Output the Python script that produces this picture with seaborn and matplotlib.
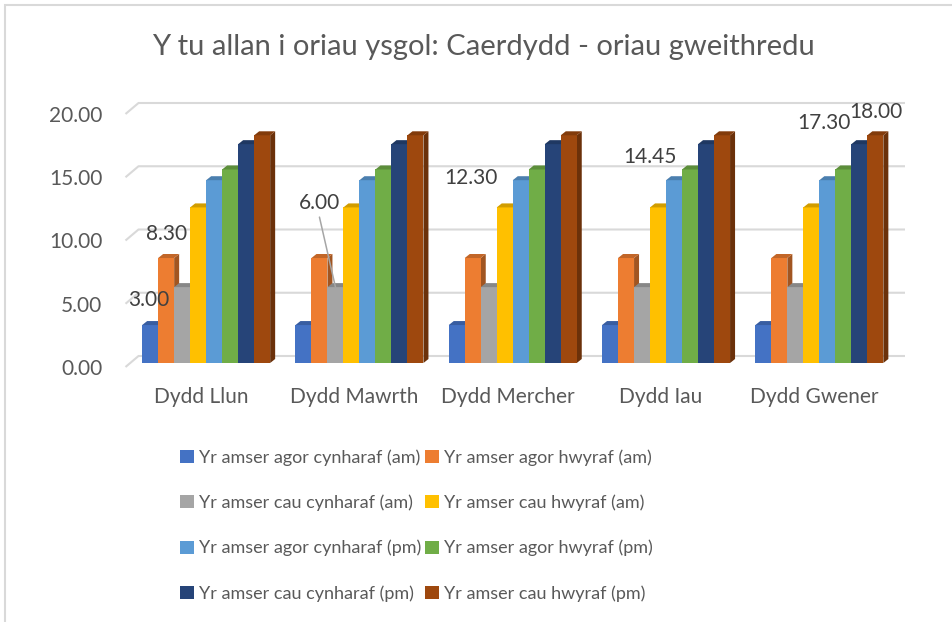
import matplotlib
matplotlib.use("Agg")
import matplotlib.pyplot as plt
import matplotlib.colors as mcolors
from matplotlib.patches import Polygon, Patch, Rectangle
from matplotlib.transforms import ScaledTranslation
import numpy as np
import pandas as pd
import seaborn as sns

# ---- data -------------------------------------------------------------
days = ["Dydd Llun", "Dydd Mawrth", "Dydd Mercher", "Dydd Iau", "Dydd Gwener"]
series = [
    "Yr amser agor cynharaf (am)",
    "Yr amser agor hwyraf (am)",
    "Yr amser cau cynharaf (am)",
    "Yr amser cau hwyraf (am)",
    "Yr amser agor cynharaf (pm)",
    "Yr amser agor hwyraf (pm)",
    "Yr amser cau cynharaf (pm)",
    "Yr amser cau hwyraf (pm)",
]
open_early_am = [3.00, 3.00, 3.00, 3.00, 3.00]
open_late_am = [8.30, 8.30, 8.30, 8.30, 8.30]
close_early_am = [6.00, 6.00, 6.00, 6.00, 6.00]
close_late_am = [12.30, 12.30, 12.30, 12.30, 12.30]
open_early_pm = [14.45, 14.45, 14.45, 14.45, 14.45]
open_late_pm = [15.30, 15.30, 15.30, 15.30, 15.30]
close_early_pm = [17.30, 17.30, 17.30, 17.30, 17.30]
close_late_pm = [18.00, 18.00, 18.00, 18.00, 18.00]
y_ticks = [0, 5, 10, 15, 20]

colors = ["#4472C4", "#ED7D31", "#A5A5A5", "#FFC000",
          "#5B9BD5", "#70AD47", "#264478", "#9E480E"]

values = [open_early_am, open_late_am, close_early_am, close_late_am,
          open_early_pm, open_late_pm, close_early_pm, close_late_pm]
df = pd.DataFrame(
    [(d, s, v[i]) for s, v in zip(series, values) for i, d in enumerate(days)],
    columns=["day", "series", "hours"],
)

# (series index, day index, label offset in px, leader line)
value_labels = [
    (0, 0, (-1, 25), False),
    (1, 0, (0, 24), False),
    (2, 1, (-16, 84), True),
    (3, 2, (-34, 29), False),
    (4, 3, (-24, 23), False),
    (6, 4, (-35, 21), False),
    (7, 4, (1, 23), False),
]

# ---- styling ----------------------------------------------------------
sns.set_theme(style="white")
FONT = ["Lato", "DejaVu Sans"]
plt.rcParams["font.family"] = FONT
TXT = "#595959"
GRID = "#D9D9D9"
TICK_FS = 15

W, H = 952, 622
fig = plt.figure(figsize=(W / 100, H / 100), dpi=100)
fig.patch.set_facecolor("white")

# plot area (front plane of the bars) in pixels
x_left, x_right = 129.5, 896.0
y_bottom, y_top = 363.0, 110.0
ax = fig.add_axes([x_left / W, 1 - y_bottom / H,
                   (x_right - x_left) / W, (y_bottom - y_top) / H])
ax.set_facecolor("none")

sns.barplot(data=df, x="day", y="hours", hue="series", hue_order=series,
            order=days, palette=colors, width=0.835, saturation=1,
            linewidth=0, legend=False, ax=ax)
ax.set_xlim(-0.5, 4.5)
ax.set_ylim(0, 20)
for s in ax.spines.values():
    s.set_visible(False)
ax.set_xlabel("")
ax.set_ylabel("")

# pixel -> data conversion
px_x = (x_right - x_left) / 5.0   # pixels per category unit
px_y = (y_bottom - y_top) / 20.0  # pixels per hour


def dx(p):
    return p / px_x


def dy(p):
    return p / px_y


# ---- back walls: gridlines with a perspective lead-in -----------------
back = (9, 7)
front = (-4, -4)
for t in y_ticks:
    xs = [-0.5 + dx(front[0]), -0.5 + dx(back[0]), 4.5 + dx(back[0])]
    ys = [t + dy(front[1]), t + dy(back[1]), t + dy(back[1])]
    ax.plot(xs, ys, color=GRID, lw=1.5, zorder=0.5, clip_on=False,
            solid_capstyle="butt")

# ---- pseudo-3D column faces -------------------------------------------
depth = (5, 4)
ddx, ddy = dx(depth[0]), dy(depth[1])
n_days = len(days)
bars = list(ax.patches)
for i, bar in enumerate(bars):
    k = i // n_days
    base = 2 + 3 * k
    col = np.array(mcolors.to_rgb(colors[k]))
    x0, w, h = bar.get_x(), bar.get_width(), bar.get_height()
    x1 = x0 + w
    bar.set_zorder(base + 1)
    side = Polygon([(x1, 0), (x1 + ddx, ddy), (x1 + ddx, h + ddy), (x1, h)],
                   closed=True, facecolor=col * 0.68, edgecolor="none",
                   zorder=base, clip_on=False)
    top = Polygon([(x0, h), (x1, h), (x1 + ddx, h + ddy), (x0 + ddx, h + ddy)],
                  closed=True, facecolor=col * 0.82, edgecolor="none",
                  zorder=base + 2, clip_on=False)
    ax.add_patch(side)
    ax.add_patch(top)

# ---- value labels -----------------------------------------------------
for k, d, (ox, oy), leader in value_labels:
    bar = bars[k * n_days + d]
    v = values[k][d]
    xc = bar.get_x() + bar.get_width() / 2
    ax.annotate(f"{v:.2f}", xy=(xc, v), xytext=(ox, oy),
                textcoords="offset pixels", ha="center", va="center",
                fontsize=TICK_FS, color="#404040", zorder=50,
                annotation_clip=False)
    if leader:
        ax.annotate("", xy=(xc, v), xytext=(ox, oy - 14),
                    textcoords="offset pixels",
                    arrowprops=dict(arrowstyle="-", color="#A6A6A6", lw=1.1,
                                    shrinkA=0, shrinkB=0),
                    zorder=49, annotation_clip=False)

# ---- axes ticks -------------------------------------------------------
ax.set_yticks(y_ticks, [f"{t:.2f}" for t in y_ticks])
ax.set_xticks(range(n_days), days)
ax.tick_params(axis="y", length=0, pad=19.5, labelsize=TICK_FS, labelcolor=TXT)
ax.tick_params(axis="x", length=0, pad=17.5, labelsize=TICK_FS, labelcolor=TXT)
for lab in ax.get_yticklabels():
    lab.set_transform(lab.get_transform() + ScaledTranslation(0, -4 / 100, fig.dpi_scale_trans))
for lab in ax.get_xticklabels():
    lab.set_transform(lab.get_transform() + ScaledTranslation(-5 / 100, 0, fig.dpi_scale_trans))

# ---- title ------------------------------------------------------------
fig.text(483.5 / W, 1 - 55 / H,
         "Y tu allan i oriau ysgol: Caerdydd - oriau gweithredu",
         ha="center", va="baseline", fontsize=21, color=TXT)

# ---- legend (row-wise order in two columns) ---------------------------
handles = [Patch(facecolor=c, edgecolor="none") for c in colors]
order = [0, 2, 4, 6, 1, 3, 5, 7]
fig.legend([handles[i] for i in order], [series[i] for i in order],
           ncol=2, loc="upper left", bbox_to_anchor=(180 / W, 1 - 449 / H),
           frameon=False, fontsize=13, labelcolor=TXT,
           handlelength=0.75, handleheight=0.75, handletextpad=0.3,
           columnspacing=0.22, labelspacing=1.6, borderpad=0, borderaxespad=0)

# ---- chart frame ------------------------------------------------------
fig.add_artist(Rectangle((5 / W, -0.1), 1.2, 1 - 5 / H + 0.1,
                         transform=fig.transFigure, fill=False,
                         edgecolor="#D9D9D9", lw=1.5))

fig.savefig("out.png", dpi=100)
